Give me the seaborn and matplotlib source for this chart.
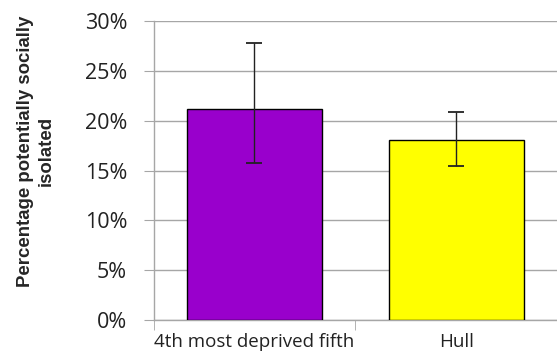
import matplotlib
matplotlib.use("Agg")
import matplotlib.pyplot as plt
import seaborn as sns
import pandas as pd
from matplotlib.ticker import PercentFormatter

sns.set_style("white")
plt.rcParams['font.family'] = ['Open Sans', 'DejaVu Sans']

# Data
areas = ['4th most deprived fifth', 'Hull']
pct_isolated = [21.2, 18.1]
ci_low = [15.8, 15.5]
ci_high = [27.8, 20.9]
bar_colors = ['#9900CC', '#FFFF00']

df = pd.DataFrame({'area': areas, 'pct': pct_isolated})

fig = plt.figure(figsize=(5.57, 3.59), dpi=100)
ax = fig.add_axes([0.2756, 0.1086, 0.7244, 0.8329])

sns.barplot(data=df, x='area', y='pct', hue='area', palette=bar_colors,
            saturation=1, legend=False, width=0.67, edgecolor='black',
            linewidth=1, errorbar=None, ax=ax, zorder=3)

yerr = [[p - lo for p, lo in zip(pct_isolated, ci_low)],
        [hi - p for p, hi in zip(pct_isolated, ci_high)]]
ax.errorbar(range(len(areas)), pct_isolated, yerr=yerr, fmt='none',
            ecolor='#222222', elinewidth=1, capsize=6, capthick=1.3, zorder=4)

ax.set_ylim(0, 30)
ax.set_yticks(range(0, 31, 5))
ax.yaxis.set_major_formatter(PercentFormatter(decimals=0))
ax.set_xlim(-0.5, 1.5)

ax.grid(axis='y', color='#a6a6a6', linewidth=1, zorder=0)
ax.set_axisbelow(True)
for side in ['top', 'right']:
    ax.spines[side].set_visible(False)
for side in ['left', 'bottom']:
    ax.spines[side].set_color('#a6a6a6')
    ax.spines[side].set_linewidth(1)

ax.tick_params(axis='y', which='major', left=True, length=7, color='#a6a6a6',
               labelsize=15.5, labelcolor='#222222', pad=12)
ax.tick_params(axis='x', which='major', bottom=False, labelsize=13.5,
               labelcolor='#222222', pad=6)
ax.set_xticks([-0.5, 0.5, 1.5], minor=True)
ax.tick_params(axis='x', which='minor', bottom=True, length=7, color='#a6a6a6')

ax.set_xlabel('')
ax.set_ylabel('Percentage potentially socially\nisolated', fontsize=13.4,
              fontweight='bold', linespacing=1.25,
              family=['Liberation Sans', 'DejaVu Sans'])
ax.yaxis.set_label_coords(-0.245, 0.565)

plt.savefig('out.png', dpi=100)
plt.close()
